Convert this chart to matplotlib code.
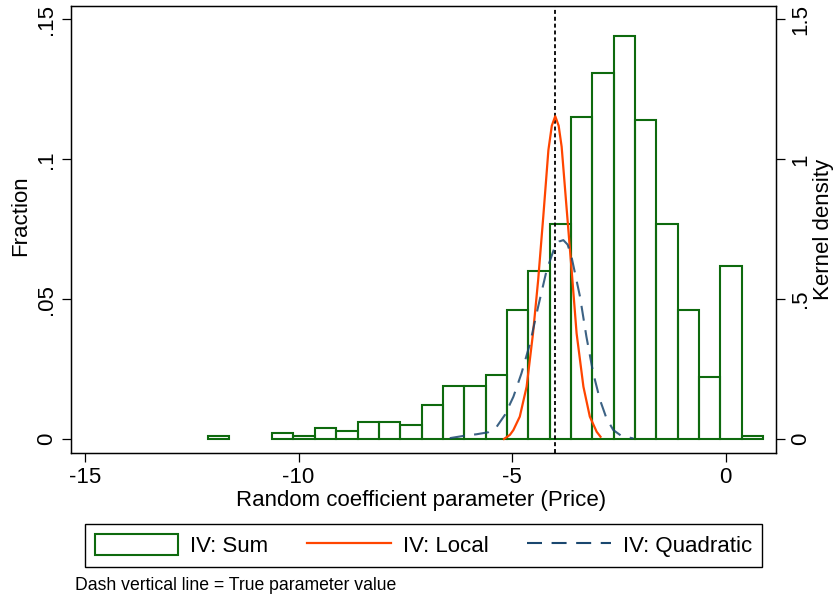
import matplotlib
matplotlib.use("Agg")
import matplotlib.pyplot as plt
from matplotlib.patches import Patch
from matplotlib.lines import Line2D
import numpy as np

plt.rcParams['font.family'] = ['Liberation Sans', 'DejaVu Sans']

# ---- data ----
bin_start = -12.12
bin_width = 0.5
fraction = [0.001, 0.0, 0.0, 0.002, 0.001, 0.004, 0.003, 0.006, 0.006, 0.005,
            0.012, 0.019, 0.019, 0.023, 0.046, 0.060, 0.077, 0.115, 0.131, 0.144,
            0.114, 0.077, 0.046, 0.022, 0.062, 0.001]

local_x = [-5.19, -5.05, -4.97, -4.82, -4.66, -4.51, -4.39, -4.27, -4.15, -4.07,
           -3.99, -3.91, -3.84, -3.72, -3.60, -3.49, -3.33, -3.18, -3.02, -2.93]
local_y = [0.0, 0.015, 0.032, 0.08, 0.187, 0.378, 0.568, 0.795, 1.033, 1.12,
           1.154, 1.12, 1.045, 0.818, 0.592, 0.378, 0.187, 0.08, 0.026, 0.008]

quad_x = [-6.46, -6.14, -5.83, -5.56, -5.36, -5.17, -4.97, -4.78, -4.58, -4.39,
          -4.19, -4.00, -3.90, -3.80, -3.70, -3.61, -3.41, -3.26, -3.10, -2.94,
          -2.79, -2.63, -2.44, -2.16]
quad_y = [0.003, 0.011, 0.017, 0.024, 0.044, 0.086, 0.151, 0.235, 0.342, 0.473,
          0.604, 0.687, 0.706, 0.711, 0.695, 0.652, 0.509, 0.366, 0.235, 0.139,
          0.074, 0.032, 0.011, 0.002]

true_value = -4
x_ticks = [-15, -10, -5, 0]
y_ticks = [0, 0.05, 0.1, 0.15]
y_ticklabels = ['0', '.05', '.1', '.15']
y2_ticks = [0, 0.5, 1, 1.5]
y2_ticklabels = ['0', '.5', '1', '1.5']
labels = ['IV: Sum', 'IV: Local', 'IV: Quadratic']

GREEN = '#0e6a0e'
RED = '#ff4500'
NAVY = '#1a476f'
FS = 16
DASH = (7.2, 4.6)

fig = plt.figure(figsize=(8.38, 5.99), dpi=100)
ax = fig.add_axes([71 / 838, 1 - 452.7 / 599, 705 / 838, 447 / 599])

edges = bin_start + bin_width * np.arange(len(fraction))
h = np.array(fraction)
mask = h > 0
ax.bar(edges[mask], h[mask], width=bin_width, align='edge', fill=False,
       edgecolor=GREEN, linewidth=1.5, zorder=2)

ax.axvline(true_value, color='black', linestyle=(0, (2.2, 1.6)), linewidth=1.3, zorder=4)

ax.set_xlim(-15.33, 1.18)
ax.set_ylim(-0.0049, 0.1549)
ax.set_xticks(x_ticks)
ax.set_xticklabels([str(t) for t in x_ticks])
ax.set_yticks(y_ticks)
ax.set_yticklabels(y_ticklabels, rotation=90, va='center')
ax.tick_params(axis='both', direction='out', length=6.3, width=0.9, labelsize=FS, pad=4)
for s in ax.spines.values():
    s.set_linewidth(1.0)

ax2 = ax.twinx()
ax2.set_ylim(-0.049, 1.549)
ax2.plot(local_x, local_y, color=RED, linewidth=1.6, zorder=3)
ax2.plot(quad_x, quad_y, color=NAVY, linewidth=1.5, dashes=DASH, alpha=0.85, zorder=3)
ax2.set_yticks(y2_ticks)
ax2.set_yticklabels(y2_ticklabels, rotation=90, va='center')
ax2.tick_params(axis='y', direction='out', length=6.3, width=0.9, labelsize=FS, pad=4)

ax.set_xlabel('Random coefficient parameter (Price)', fontsize=FS)
ax.xaxis.set_label_coords(0.497, -0.108)
ax.xaxis.label.set_verticalalignment('center')
ax.set_ylabel('Fraction', fontsize=FS)
ax.yaxis.set_label_coords(-0.071, 0.53)
ax.yaxis.label.set_verticalalignment('center')
ax2.set_ylabel('Kernel density', fontsize=FS)
ax2.yaxis.set_label_coords(1.068, 0.5)
ax2.yaxis.label.set_verticalalignment('center')

handles = [Patch(facecolor='white', edgecolor=GREEN, linewidth=1.5),
           Line2D([], [], color=RED, linewidth=1.6),
           Line2D([], [], color=NAVY, linewidth=1.5, dashes=DASH)]
leg = fig.legend(handles, labels, ncol=3, loc='center',
                 bbox_to_anchor=(423.5 / 838, 1 - 545.5 / 599),
                 fontsize=FS, frameon=True, fancybox=False, shadow=False,
                 edgecolor='black', framealpha=1, handlelength=3.75,
                 handleheight=1.04, handletextpad=0.55, columnspacing=1.75,
                 borderpad=0.45, borderaxespad=0)
leg.get_frame().set_linewidth(1.0)

fig.text(75 / 838, 1 - 586 / 599, 'Dash vertical line = True parameter value',
         fontsize=12.7, ha='left', va='center')

fig.savefig('out.png', dpi=100, facecolor='white')
